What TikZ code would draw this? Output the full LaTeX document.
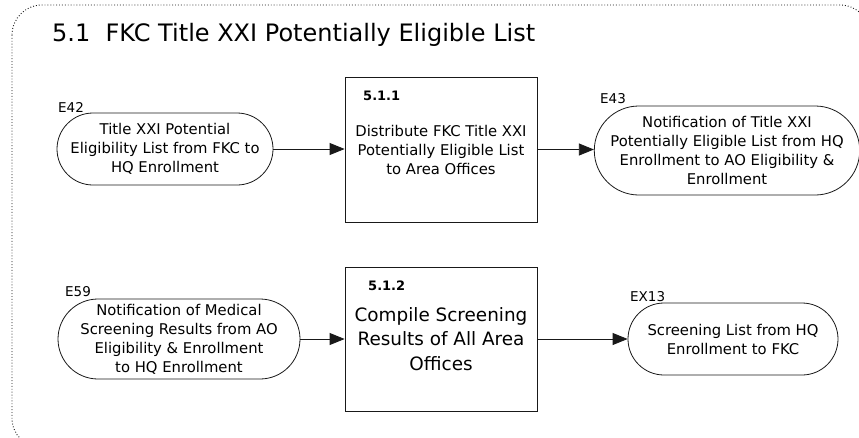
\documentclass[tikz,border=0pt]{standalone}
\usepackage{fontspec}
\setmainfont{DejaVu Sans}
\usetikzlibrary{calc,arrows.meta,positioning,shapes.misc}

\begin{document}
\begin{tikzpicture}[x=1pt,y=-1pt,
	every node/.style={inner sep=0pt},
	term/.style={rounded rectangle,draw=black!90,line width=0.8pt,align=center,font=\fontsize{14.8}{19}\selectfont},
	proc/.style={draw=black!90,line width=0.8pt,minimum width=192pt,minimum height=145pt,align=center},
	flow/.style={draw=black!90,line width=0.8pt,-{Triangle[length=15pt,width=12pt]}},
	pid/.style={font=\fontsize{13}{15}\bfseries\selectfont,anchor=base west},
	eid/.style={font=\fontsize{13.5}{16}\selectfont,anchor=base west}]
		\useasboundingbox (0,0) rectangle (859,437);
		\draw[black!90,dotted,line width=0.9pt,rounded corners=30pt] (12,5) rectangle (870,448);
		\node[anchor=base west,font=\fontsize{24}{28}\selectfont] (title) at (52,41) {5.1\ \ FKC Title XXI Potentially Eligible List};
		% upper row
		\node[term,minimum width=216pt,minimum height=72pt] (e42) at (165,149) {Title XXI Potential\\Eligibility List from FKC to\\HQ Enrollment};
		\node[proc,font=\fontsize{14.8}{19}\selectfont] (box1) at (441,149.5) {Distribute FKC Title XXI\\Potentially Eligible List\\to Area Offices};
		\node[term,minimum width=262pt,minimum height=89pt] (e43) at (727,150.5) {Notification of Title XXI\\Potentially Eligible List from HQ\\Enrollment to AO Eligibility \&\\Enrollment};
		% lower row
		\node[term,minimum width=242pt,minimum height=80pt] (e59) at (179,339) {Notification of Medical\\Screening Results from AO\\Eligibility \& Enrollment\\to HQ Enrollment};
		\node[proc,minimum height=144pt,font=\fontsize{18.4}{24.6}\selectfont] (box2) at (441,339) {Compile Screening\\Results of All Area\\Offices};
		\node[term,minimum width=210pt,minimum height=72pt] (ex13) at (733,339) {Screening List from HQ\\Enrollment to FKC};
		% ids
		\node[pid] (id1) at (363,100) {5.1.1};
		\node[pid] (id2) at (368,290) {5.1.2};
		\node[eid] (l42) at (58,112.5) {E42};
		\node[eid] (l43) at (600,103.5) {E43};
		\node[eid] (l59) at (65,296.5) {E59};
		\node[eid] (l13) at (630,301) {EX13};
		% flows
		\draw[flow] (e42.east) -- (e42.east -| box1.west);
		\draw[flow] (box1.east) -- (box1.east -| e43.west);
		\draw[flow] (e59.east) -- (e59.east -| box2.west);
		\draw[flow] (box2.east) -- (box2.east -| ex13.west);
	\end{tikzpicture}
\end{document}
